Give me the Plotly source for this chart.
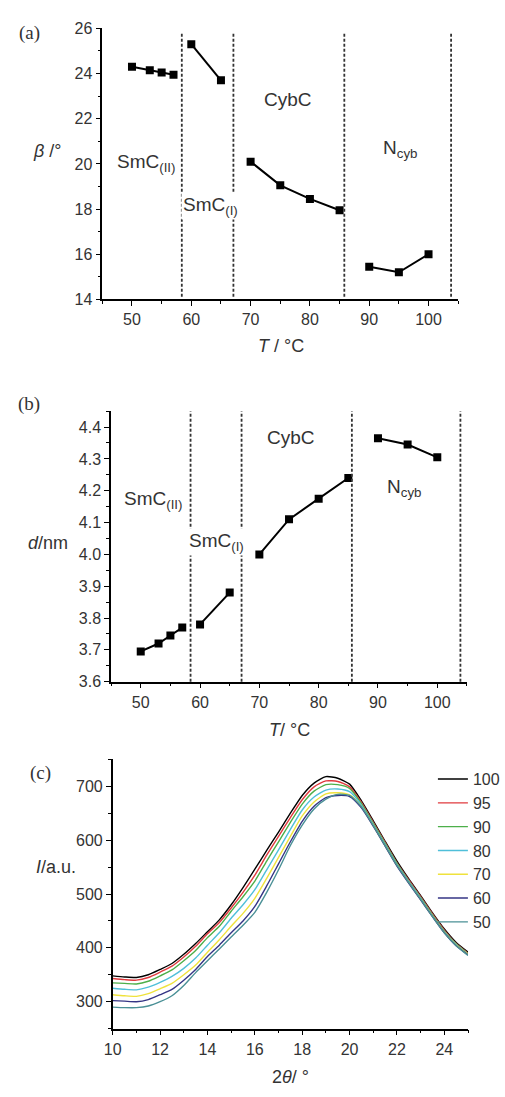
import plotly.graph_objects as go

# ---------------- Panel (a): tilt angle beta vs T ----------------
T_a = [50, 53, 55, 57, 60, 65, 70, 75, 80, 85, 90, 95, 100]
beta = [24.3, 24.15, 24.05, 23.95, 25.3, 23.7, 20.1, 19.05, 18.45, 17.95, 15.45, 15.2, 16.0]
phase_a = ["II"] * 4 + ["I"] * 2 + ["C"] * 4 + ["N"] * 3
bounds_a = [58.4, 67.1, 85.8, 103.8]

# ---------------- Panel (b): layer spacing d vs T ----------------
T_b = [50, 53, 55, 57, 60, 65, 70, 75, 80, 85, 90, 95, 100]
d_nm = [3.695, 3.72, 3.745, 3.77, 3.78, 3.88, 4.00, 4.11, 4.175, 4.24, 4.365, 4.345, 4.305]
phase_b = ["II"] * 4 + ["I"] * 2 + ["C"] * 4 + ["N"] * 3
bounds_b = [58.4, 67.0, 85.6, 103.9]

# ---------------- Panel (c): XRD intensity curves ----------------
two_theta = [10, 10.5, 11, 11.5, 12, 12.5, 13, 13.5, 14, 14.5, 15, 15.5, 16, 16.5, 17, 17.5,
             18, 18.5, 19, 19.5, 20, 20.5, 21, 21.5, 22, 22.5, 23, 23.5, 24, 24.5, 25]
I_100 = [348, 346, 345, 350, 360, 371, 388, 408, 430, 452, 480, 512, 546, 581, 615, 650,
         683, 706, 718, 715, 704, 673, 636, 598, 561, 528, 497, 465, 435, 410, 392]
I_95 = [343, 341, 340, 345, 355, 366, 383, 403, 426, 447, 474, 503, 535, 572, 607, 642,
        675, 699, 710, 709, 699, 670, 633, 596, 558, 526, 495, 463, 433, 408, 390]
I_90 = [335, 334, 333, 338, 348, 359, 376, 395, 419, 440, 468, 495, 524, 561, 597, 633,
        667, 691, 703, 703, 696, 668, 631, 594, 557, 524, 493, 461, 431, 407, 389]
I_80 = [325, 323, 322, 327, 336, 347, 362, 381, 405, 428, 455, 480, 508, 545, 582, 620,
        656, 680, 693, 695, 690, 665, 629, 592, 555, 523, 492, 460, 430, 406, 388]
I_70 = [313, 311, 310, 315, 324, 334, 350, 368, 392, 415, 440, 464, 492, 529, 568, 607,
        645, 671, 686, 688, 684, 662, 627, 590, 553, 521, 490, 459, 429, 405, 388]
I_60 = [302, 301, 300, 304, 313, 323, 340, 360, 384, 405, 428, 450, 477, 515, 556, 597,
        635, 663, 679, 683, 681, 660, 626, 589, 552, 520, 489, 458, 428, 404, 387]
I_50 = [290, 289, 289, 292, 300, 311, 330, 354, 376, 398, 420, 442, 466, 503, 545, 590,
        628, 658, 676, 685, 683, 662, 627, 590, 553, 521, 490, 458, 428, 404, 386]
curve_labels = ["100", "95", "90", "80", "70", "60", "50"]
curve_data = [I_100, I_95, I_90, I_80, I_70, I_60, I_50]
curve_colors = ["#000000", "#e03a3e", "#4daf4a", "#4fbfd9", "#efe23c", "#353585", "#4a9096"]

FONT = "Liberation Sans, Arial, sans-serif"
SERIF = "Liberation Serif, Times New Roman, serif"
TXT = "#333333"
W, H = 505, 1097

fig = go.Figure()


def add_phase_series(xs, ys, phases, xa, ya):
    order = []
    for p in phases:
        if p not in order:
            order.append(p)
    for p in order:
        px_ = [x for x, q in zip(xs, phases) if q == p]
        py_ = [y for y, q in zip(ys, phases) if q == p]
        fig.add_trace(go.Scatter(x=px_, y=py_, mode="lines+markers", xaxis=xa, yaxis=ya,
                                 line=dict(color="black", width=2),
                                 marker=dict(symbol="square", size=8, color="black"),
                                 showlegend=False, hoverinfo="skip"))


add_phase_series(T_a, beta, phase_a, "x", "y")
add_phase_series(T_b, d_nm, phase_b, "x2", "y2")

for lab, ys, col in zip(curve_labels, curve_data, curve_colors):
    fig.add_trace(go.Scatter(x=two_theta, y=ys, mode="lines", xaxis="x3", yaxis="y3",
                             name=lab, line=dict(color=col, width=1.4, shape="spline", smoothing=0.6),
                             showlegend=True))

# phase boundary dashed lines
for b in bounds_a:
    fig.add_shape(type="line", xref="x", yref="y domain", x0=b, x1=b, y0=0.01, y1=0.985,
                  line=dict(color="#333333", width=1.8, dash="3px,2px"))
for b in bounds_b:
    fig.add_shape(type="line", xref="x2", yref="y2 domain", x0=b, x1=b, y0=0.0, y1=1.0,
                  line=dict(color="#333333", width=1.8, dash="3px,2px"))


def px2fx(px):
    return px / W


def py2fy(py):
    return 1 - py / H


axis_common = dict(showline=True, linecolor="black", linewidth=1.6, ticks="outside",
                   ticklen=5, tickwidth=1.4, tickcolor="black", showgrid=False, zeroline=False,
                   tickfont=dict(family=FONT, size=16, color=TXT), mirror=False)
minor_common = dict(ticks="outside", ticklen=3, tickwidth=1.2, tickcolor="black", showgrid=False)

fig.update_layout(
    width=W, height=H, margin=dict(l=0, r=0, t=0, b=0),
    paper_bgcolor="white", plot_bgcolor="white",
    font=dict(family=FONT, color=TXT),
    xaxis=dict(domain=[px2fx(96), px2fx(462)], range=[45, 105], tickvals=[50, 60, 70, 80, 90, 100],
               minor=dict(dtick=5, tick0=45, **minor_common), anchor="y", **axis_common),
    yaxis=dict(domain=[py2fy(296), py2fy(20.7)], range=[14, 26], dtick=2, tick0=14,
               minor=dict(dtick=1, **minor_common), anchor="x", **axis_common),
    xaxis2=dict(domain=[px2fx(105), px2fx(471)], range=[45, 105], tickvals=[50, 60, 70, 80, 90, 100],
                minor=dict(dtick=5, tick0=45, **minor_common), anchor="y2", **axis_common),
    yaxis2=dict(domain=[py2fy(684.3), py2fy(409.5)], range=[3.6, 4.45], dtick=0.1, tick0=3.6,
                tickformat=".1f", minor=dict(dtick=0.05, **minor_common), anchor="x2", **axis_common),
    xaxis3=dict(domain=[px2fx(106.7), px2fx(472.1)], range=[10, 25], dtick=2, tick0=10,
                minor=dict(dtick=1, **minor_common), anchor="y3", **axis_common),
    yaxis3=dict(domain=[py2fy(1036.7), py2fy(763.2)], range=[250, 750], tickvals=[300, 400, 500, 600, 700],
                minor=dict(dtick=50, tick0=250, **minor_common), anchor="x3", **axis_common),
    legend=dict(x=px2fx(436), y=py2fy(766), xanchor="left", yanchor="top",
                bgcolor="rgba(0,0,0,0)", font=dict(family=FONT, size=16, color=TXT),
                itemwidth=30, tracegroupgap=0),
)

ann = []


def label(text, x, y, xref, yref, size=19, family=FONT, **kw):
    ann.append(dict(text=text, x=x, y=y, xref=xref, yref=yref, showarrow=False,
                    xanchor="center", yanchor="middle",
                    font=dict(family=family, size=size, color=TXT), **kw))


# phase labels (a)
label("SmC<sub>(II)</sub>", 52.3, 20.05, "x", "y")
label("SmC<sub>(I)</sub>", 63.2, 18.15, "x", "y", bgcolor="white")
label("CybC", 76.3, 22.85, "x", "y")
label("N<sub>cyb</sub>", 95.2, 20.65, "x", "y")
# phase labels (b)
label("SmC<sub>(II)</sub>", 52.1, 4.17, "x2", "y2")
label("SmC<sub>(I)</sub>", 62.8, 4.04, "x2", "y2", bgcolor="white")
label("CybC", 75.4, 4.366, "x2", "y2")
label("N<sub>cyb</sub>", 94.4, 4.21, "x2", "y2")

# panel letters
label("(a)", px2fx(21), py2fy(25), "paper", "paper", size=19, family=SERIF)
label("(b)", px2fx(21), py2fy(402), "paper", "paper", size=19, family=SERIF)
label("(c)", px2fx(32), py2fy(777), "paper", "paper", size=19, family=SERIF)

# axis titles
label("<i>β</i> /°", px2fx(40), py2fy(145), "paper", "paper", size=18)
label("<i>T</i> / °C", px2fx(280), py2fy(343), "paper", "paper", size=18)
label("<i>d</i>/nm", px2fx(40), py2fy(543), "paper", "paper", size=18)
label("<i>T</i>/ °C", px2fx(288), py2fy(733), "paper", "paper", size=18)
label("<i>I</i>/a.u.", px2fx(48), py2fy(873), "paper", "paper", size=18)
label("2<i>θ</i>/ °", px2fx(290), py2fy(1086), "paper", "paper", size=18)

fig.update_layout(annotations=ann)
fig.write_html("out.html")
